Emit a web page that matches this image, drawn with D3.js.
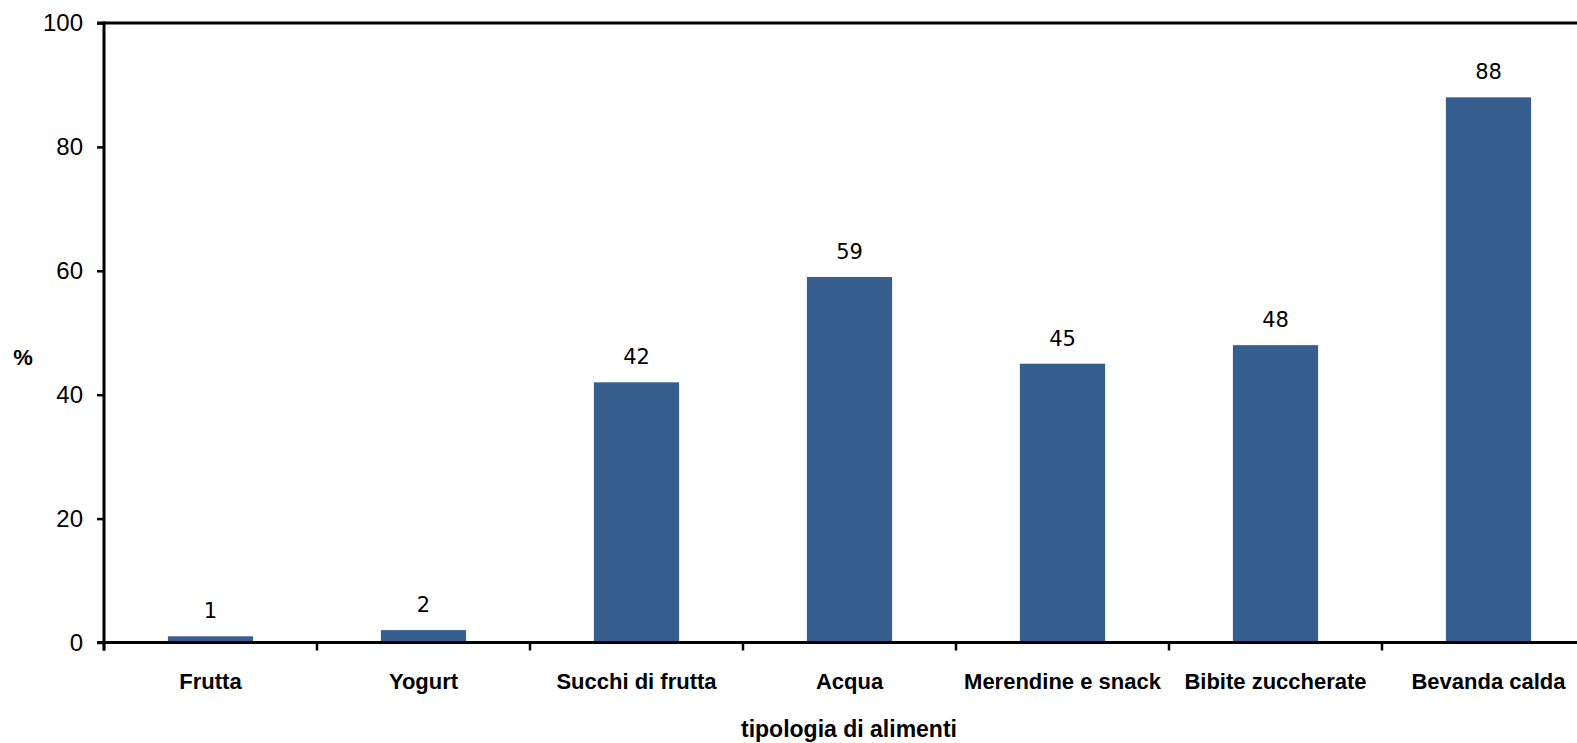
<!DOCTYPE html>
<html>
<head>
<meta charset="utf-8">
<script src="https://cdn.jsdelivr.net/npm/d3@7"></script>
<style>
  html, body { margin: 0; padding: 0; background: #fff; }
  svg { display: block; }
</style>
</head>
<body>
<svg id="chart" width="1577" height="743"></svg>
<script>
const categories = ["Frutta", "Yogurt", "Succhi di frutta", "Acqua", "Merendine e snack", "Bibite zuccherate", "Bevanda calda"];
const values = [1, 2, 42, 59, 45, 48, 88];
const yTicks = [0, 20, 40, 60, 80, 100];
const yLabel = "%";
const xLabel = "tipologia di alimenti";

(function () {
const svg = d3.select("#chart");
const mLeft = 104, mRight = 1595, mTop = 23, mBottom = 642.5;

const x = d3.scaleBand().domain(categories).range([mLeft, mRight]).padding(0);
const y = d3.scaleLinear().domain([0, 100]).range([mBottom, mTop]);

const barW = x.bandwidth() * 0.4;

// bars
svg.append("g").selectAll("rect").data(values).join("rect")
  .attr("x", (d, i) => x(categories[i]) + (x.bandwidth() - barW) / 2)
  .attr("y", d => y(d))
  .attr("width", barW)
  .attr("height", d => y(0) - y(d))
  .attr("fill", "#365F8F");

// data labels
svg.append("g").selectAll("text").data(values).join("text")
  .attr("x", (d, i) => x(categories[i]) + x.bandwidth() / 2)
  .attr("y", d => y(d) - 18)
  .attr("text-anchor", "middle")
  .attr("font-family", "DejaVu Sans, sans-serif")
  .attr("font-size", 21)
  .attr("fill", "#000")
  .text(d => d);

// y axis
const yAxis = d3.axisLeft(y).tickValues(yTicks).tickSize(7).tickPadding(14).tickFormat(d3.format("d"));
const gy = svg.append("g").attr("transform", `translate(${mLeft},0)`).call(yAxis);
gy.select(".domain").remove();
gy.selectAll(".tick line").attr("stroke", "#000").attr("stroke-width", 2.5);
gy.selectAll(".tick text").attr("font-family", "Liberation Sans, Arial, sans-serif").attr("font-size", 24).attr("fill", "#000");
svg.append("line").attr("x1", mLeft).attr("x2", mLeft).attr("y1", mTop - 1.5).attr("y2", mBottom + 8)
  .attr("stroke", "#000").attr("stroke-width", 3);

// top border line
svg.append("line").attr("x1", mLeft - 7).attr("x2", mRight).attr("y1", y(100)).attr("y2", y(100))
  .attr("stroke", "#000").attr("stroke-width", 3);

// x axis
const xTickPos = categories.map(c => x(c)).concat([mRight]);
const gx = svg.append("g");
gx.append("line").attr("x1", mLeft - 7).attr("x2", mRight).attr("y1", mBottom).attr("y2", mBottom)
  .attr("stroke", "#000").attr("stroke-width", 3);
gx.selectAll("line.tk").data(xTickPos).join("line").attr("class", "tk")
  .attr("x1", d => d).attr("x2", d => d).attr("y1", mBottom).attr("y2", mBottom + 8)
  .attr("stroke", "#000").attr("stroke-width", 2.5);
gx.selectAll("text").data(categories).join("text")
  .attr("x", d => x(d) + x.bandwidth() / 2)
  .attr("y", 689)
  .attr("text-anchor", "middle")
  .attr("font-family", "Liberation Sans, Arial, sans-serif")
  .attr("font-weight", "bold")
  .attr("font-size", 22)
  .attr("fill", "#000")
  .text(d => d);

// axis titles
svg.append("text").attr("x", 849).attr("y", 737).attr("text-anchor", "middle")
  .attr("font-family", "Liberation Sans, Arial, sans-serif").attr("font-weight", "bold").attr("font-size", 23)
  .text(xLabel);
svg.append("text").attr("x", 23).attr("y", 365).attr("text-anchor", "middle")
  .attr("font-family", "Liberation Sans, Arial, sans-serif").attr("font-weight", "bold").attr("font-size", 22)
  .text(yLabel);
})();
</script>
</body>
</html>
